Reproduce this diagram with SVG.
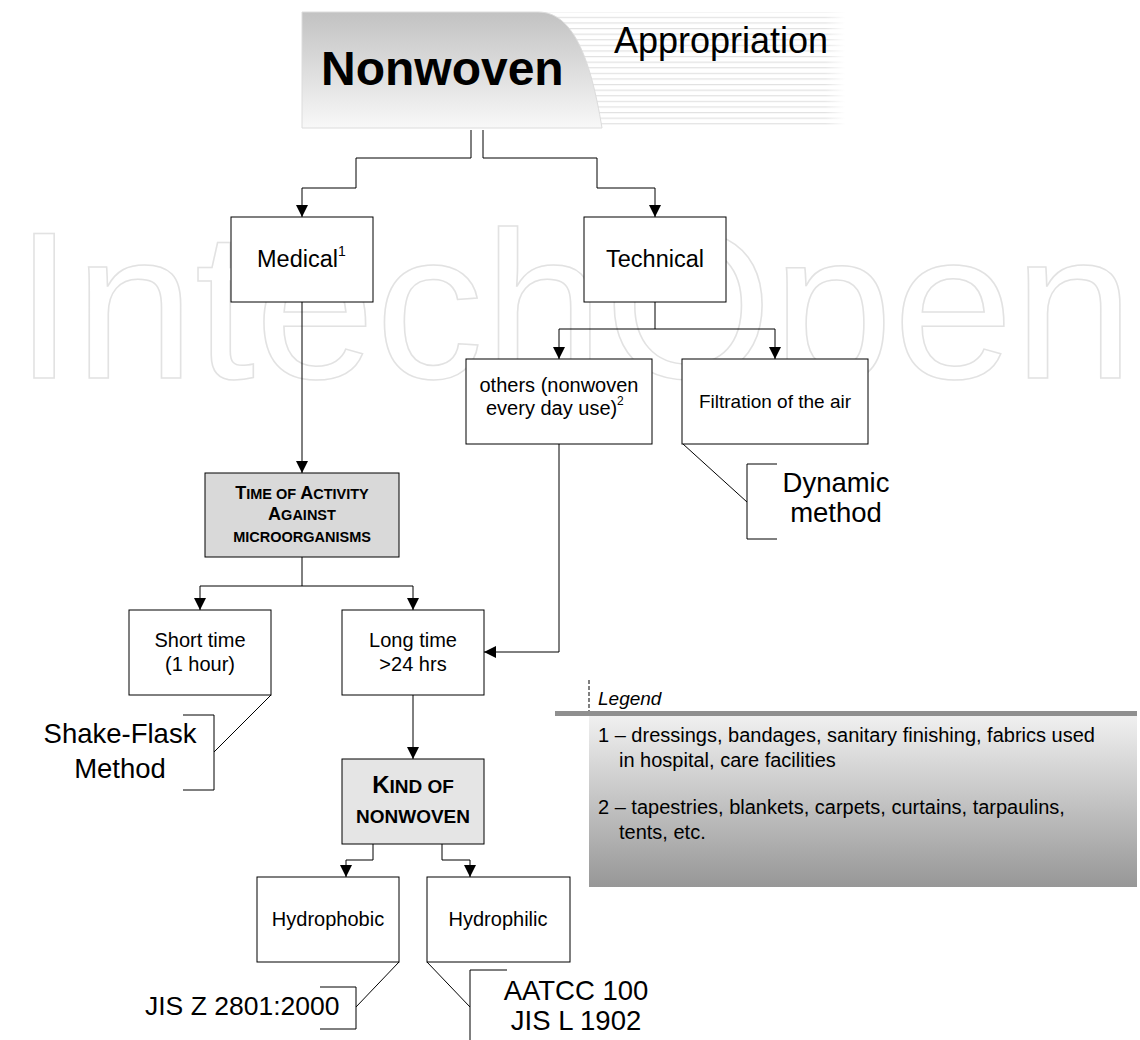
<svg xmlns="http://www.w3.org/2000/svg" width="1140" height="1040" viewBox="0 0 1140 1040">
<defs>
<style>
.t{font-family:"Liberation Sans",Arial,sans-serif;fill:#000}
.box{fill:#fff;stroke:#000;stroke-width:1}
.c{fill:none;stroke:#000;stroke-width:1}
.wm{font-family:"Liberation Sans",Arial,sans-serif;font-size:210px;fill:none;stroke:#e2e2e2;stroke-width:1.5}
</style>
<marker id="ah" markerUnits="userSpaceOnUse" markerWidth="12" markerHeight="12" viewBox="0 0 12 12" refX="12" refY="6" orient="auto">
<path d="M0,0 L12,6 L0,12 Z" fill="#000"/>
</marker>
<linearGradient id="hg" x1="0" y1="0" x2="0" y2="1">
<stop offset="0" stop-color="#c2c2c2"/>
<stop offset="1" stop-color="#f8f8f8"/>
</linearGradient>
<linearGradient id="lg" x1="0" y1="0" x2="0" y2="1">
<stop offset="0" stop-color="#f0f0f0"/>
<stop offset="1" stop-color="#979797"/>
</linearGradient>
<linearGradient id="fade" x1="0" y1="0" x2="1" y2="0">
<stop offset="0" stop-color="#fff" stop-opacity="0"/>
<stop offset="1" stop-color="#fff" stop-opacity="1"/>
</linearGradient>
<pattern id="stripes" patternUnits="userSpaceOnUse" width="10" height="5.6">
<rect x="0" y="0" width="10" height="1.2" fill="#e1e1e1"/>
</pattern>
</defs>
<rect width="1140" height="1040" fill="#fff"/>

<text class="wm" x="14" y="378" textLength="1120" lengthAdjust="spacingAndGlyphs">IntechOpen</text>

<g id="header">
<rect x="530" y="12" width="315" height="116" fill="url(#stripes)"/>
<rect x="825" y="12" width="20" height="116" fill="url(#fade)"/>
<path d="M302,12 H538 C572,12 590,55 602,128 H302 Z" fill="url(#hg)" stroke="#dcdcdc" stroke-width="1"/>
<text class="t" x="321" y="85" font-size="48" font-weight="bold">Nonwoven</text>
<text class="t" x="614" y="53" font-size="36">Appropriation</text>
</g>

<g id="connectors">
<path class="c" d="M471,130 V158 H356 V188 H302 V217" marker-end="url(#ah)"/>
<path class="c" d="M483,130 V158 H597 V188 H655 V217" marker-end="url(#ah)"/>
<path class="c" d="M302,302 V473" marker-end="url(#ah)"/>
<path class="c" d="M655,302 V329 H559 V359" marker-end="url(#ah)"/>
<path class="c" d="M655,329 H775 V359" marker-end="url(#ah)"/>
<path class="c" d="M302,557 V586 H200 V610" marker-end="url(#ah)"/>
<path class="c" d="M302,586 H413 V610" marker-end="url(#ah)"/>
<path class="c" d="M559,444 V652 H484" marker-end="url(#ah)"/>
<path class="c" d="M413,695 V759" marker-end="url(#ah)"/>
<path class="c" d="M373,844 V860 H346 V877" marker-end="url(#ah)"/>
<path class="c" d="M442,844 V860 H470 V877" marker-end="url(#ah)"/>
<path class="c" d="M271,695 L214,752 M183,715 H214 V790 H183"/>
<path class="c" d="M683,444 L747,502 M777,464 H747 V539 H777"/>
<path class="c" d="M399,962 L356,1007 M320,987 H356 V1029 H320"/>
<path class="c" d="M427,962 L470,1007 M507,970 H470 V1045"/>
</g>

<g id="medical">
<rect class="box" x="231" y="217" width="142" height="85"/>
<text class="t" x="257" y="267" font-size="23.5">Medical</text>
<text class="t" x="338" y="256" font-size="14">1</text>
</g>

<g id="technical">
<rect class="box" x="584" y="217" width="142" height="85"/>
<text class="t" x="655" y="267" font-size="23.5" text-anchor="middle">Technical</text>
</g>

<g id="others">
<rect class="box" x="466" y="359" width="186" height="85"/>
<text class="t" x="559" y="392" font-size="20" text-anchor="middle">others (nonwoven</text>
<text class="t" x="486" y="415" font-size="20">every day use)</text>
<text class="t" x="617" y="405" font-size="12">2</text>
</g>

<g id="filtration">
<rect class="box" x="682" y="359" width="186" height="85"/>
<text class="t" x="775" y="408" font-size="19" text-anchor="middle">Filtration of the air</text>
</g>

<g id="dynamic">
<text class="t" x="836" y="492" font-size="27.5" text-anchor="middle">Dynamic</text>
<text class="t" x="836" y="522" font-size="27.5" text-anchor="middle">method</text>
</g>

<g id="time">
<rect class="box" x="205" y="473" width="194" height="84" style="fill:#d9d9d9"/>
<text class="t" x="302" y="499" font-weight="bold" text-anchor="middle" font-size="14.5"><tspan font-size="18">T</tspan>IME OF <tspan font-size="18">A</tspan>CTIVITY</text>
<text class="t" x="302" y="520" font-weight="bold" text-anchor="middle" font-size="14.5"><tspan font-size="18">A</tspan>GAINST</text>
<text class="t" x="302" y="542" font-weight="bold" text-anchor="middle" font-size="14.5">MICROORGANISMS</text>
</g>

<g id="short">
<rect class="box" x="129" y="610" width="142" height="85"/>
<text class="t" x="200" y="647" font-size="20" text-anchor="middle">Short time</text>
<text class="t" x="200" y="671" font-size="20" text-anchor="middle">(1 hour)</text>
</g>

<g id="long">
<rect class="box" x="342" y="610" width="142" height="85"/>
<text class="t" x="413" y="647" font-size="20" text-anchor="middle">Long time</text>
<text class="t" x="413" y="671" font-size="20" text-anchor="middle">&gt;24 hrs</text>
</g>

<g id="shakeflask">
<text class="t" x="120" y="743" font-size="27.5" text-anchor="middle">Shake-Flask</text>
<text class="t" x="120" y="778" font-size="27.5" text-anchor="middle">Method</text>
</g>

<g id="kind">
<rect class="box" x="342" y="759" width="142" height="85" style="fill:#e5e5e5"/>
<text class="t" x="413" y="793" font-weight="bold" text-anchor="middle" font-size="19"><tspan font-size="24">K</tspan>IND OF</text>
<text class="t" x="413" y="823" font-weight="bold" text-anchor="middle" font-size="19">NONWOVEN</text>
</g>

<g id="hydrophobic">
<rect class="box" x="257" y="877" width="142" height="85"/>
<text class="t" x="328" y="926" font-size="20" text-anchor="middle">Hydrophobic</text>
</g>

<g id="hydrophilic">
<rect class="box" x="427" y="877" width="143" height="85"/>
<text class="t" x="498" y="926" font-size="20" text-anchor="middle">Hydrophilic</text>
</g>

<g id="jisz">
<text class="t" x="145" y="1015" font-size="26.5">JIS Z 2801:2000</text>
</g>

<g id="aatcc">
<text class="t" x="576" y="1000" font-size="27.5" text-anchor="middle">AATCC 100</text>
<text class="t" x="576" y="1030" font-size="27.5" text-anchor="middle">JIS L 1902</text>
</g>

<g id="legend">
<path d="M589,680 V712" stroke="#000" stroke-width="1" stroke-dasharray="4,2" fill="none"/>
<text class="t" x="598" y="705" font-size="19" font-style="italic">Legend</text>
<rect x="555" y="711" width="582" height="5" fill="#8f8f8f"/>
<rect x="589" y="716" width="548" height="171" fill="url(#lg)"/>
<text class="t" x="598" y="742" font-size="20">1 – dressings, bandages, sanitary finishing, fabrics used</text>
<text class="t" x="619" y="767" font-size="20">in hospital, care facilities</text>
<text class="t" x="598" y="814" font-size="20">2 – tapestries, blankets, carpets, curtains, tarpaulins,</text>
<text class="t" x="619" y="839" font-size="20">tents, etc.</text>
</g>
</svg>
